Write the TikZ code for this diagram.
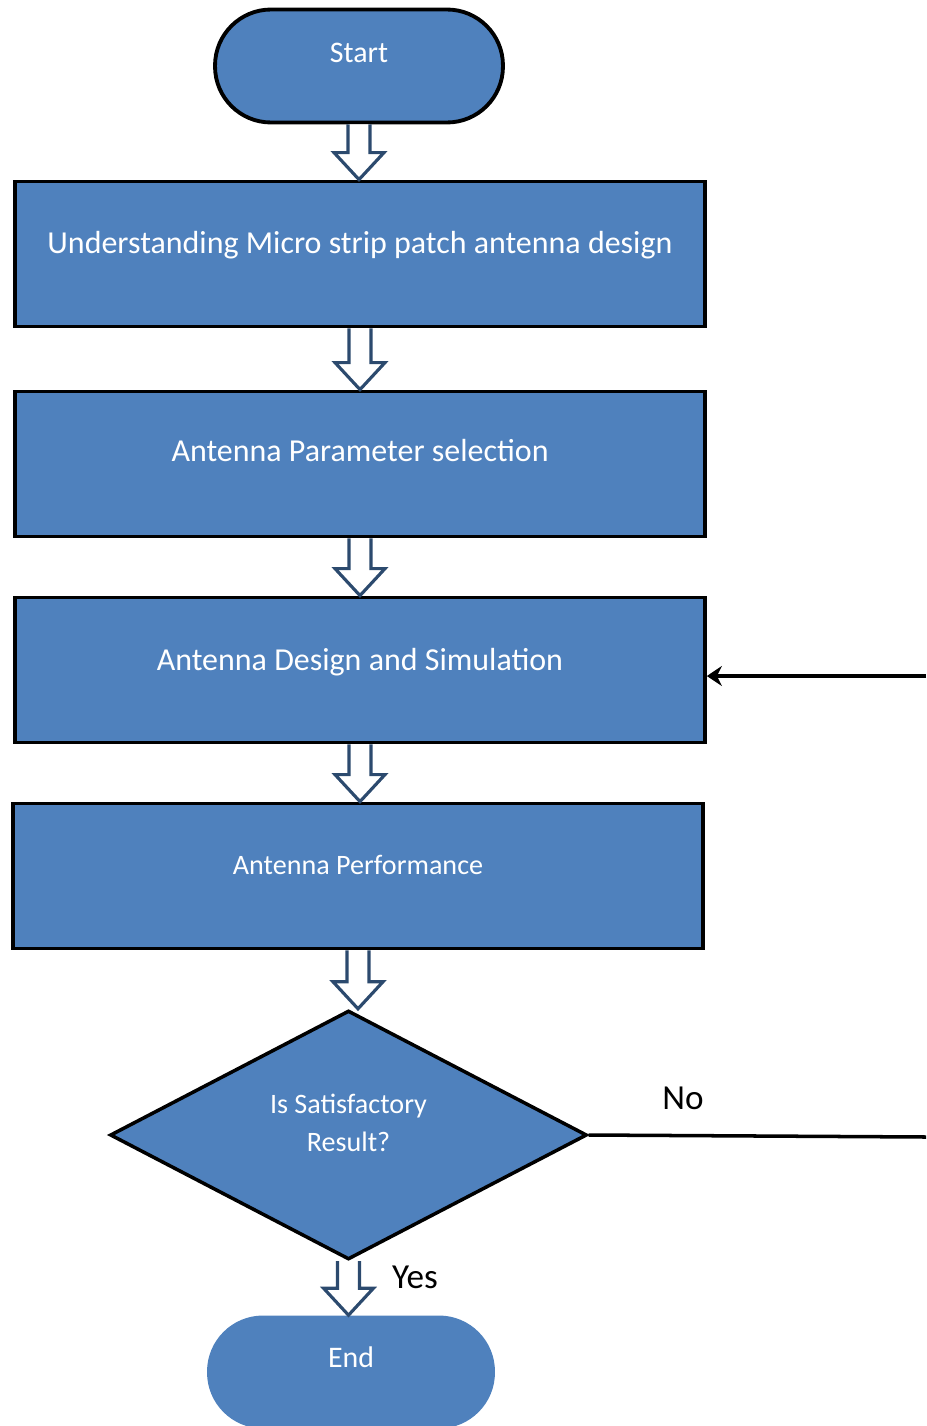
\documentclass[tikz,border=0pt]{standalone}
\usepackage{fontspec}
\setmainfont{Carlito}
\usetikzlibrary{shapes.geometric,calc,arrows.meta}
\definecolor{boxblue}{HTML}{4F81BD}
\definecolor{arrowblue}{HTML}{2C4A6E}
\tikzset{
  process/.style={draw=black, line width=2.2pt, fill=boxblue, text=white,
    minimum width=13.8cm, minimum height=2.9cm, font=\fontsize{18.2}{21}\selectfont},
  terminal/.style={fill=boxblue, text=white, rounded corners=1.12cm,
    minimum width=5.76cm, minimum height=2.26cm, font=\fontsize{17}{20}\selectfont},
  decision/.style={diamond, draw=black, line width=2pt, fill=boxblue, text=white,
    minimum width=9.54cm, minimum height=4.98cm, align=center, inner sep=0pt,
    font=\fontsize{16}{21.6}\selectfont},
  hollowarrow/.style={draw=arrowblue, line width=1.8pt, fill=white, line join=miter},
  answer/.style={font=\fontsize{20}{24}\selectfont}
}
% hollow block arrow between two nodes
\newcommand{\flowarrow}[2]{%
  \filldraw[hollowarrow] let \p1=(#1.south), \p2=(#2.north) in
    (\x1-0.22cm,\y1) -- (\x1-0.22cm,\y2+0.54cm) -- (\x1-0.5cm,\y2+0.54cm)
    -- (\x1,\y2) -- (\x1+0.5cm,\y2+0.54cm) -- (\x1+0.22cm,\y2+0.54cm)
    -- (\x1+0.22cm,\y1);}
\begin{document}
\begin{tikzpicture}[x=0.02cm, y=-0.02cm]
  \useasboundingbox (0,0) rectangle (926,1426);

  % Steps
  \node[terminal, draw=black, line width=2.2pt] (start) at (359,66) {\raisebox{0.52cm}{Start}};
  \node[process] (understand) at (360,254) {\raisebox{0.48cm}{Understanding Micro strip patch antenna design}};
  \node[process] (param) at (360,464) {\raisebox{0.54cm}{Antenna Parameter selection}};
  \node[process] (design) at (360,670) {\raisebox{0.42cm}{Antenna Design and Simulation}};
  \node[process, font=\fontsize{16}{19}\selectfont] (perf) at (358,876) {\raisebox{0.44cm}{Antenna Performance}};
  \node[decision] (check) at (348.5,1135) {\raisebox{0.5cm}{\shortstack{Is Satisfactory\\[5pt]Result?}}};
  \node[terminal] (finish) at (351,1372) {\raisebox{0.6cm}{End}};

  % Block arrows
  \flowarrow{start}{understand}
  \flowarrow{understand}{param}
  \flowarrow{param}{design}
  \flowarrow{design}{perf}
  \flowarrow{perf}{check}
  \flowarrow{check}{finish}

  % Loop back when not satisfactory
  \coordinate (exitR) at (926,1137);
  \coordinate (entryR) at (926,676);
  \draw[line width=2pt] (check.east) -- (exitR);
  \draw[line width=2pt, -{Stealth[length=0.3cm, width=0.4cm]}] (entryR) -- (entryR -| design.east);

  \node[answer] (no) at (683,1098) {No};
  \node[answer] (yes) at (415,1277) {Yes};
\end{tikzpicture}
\end{document}
